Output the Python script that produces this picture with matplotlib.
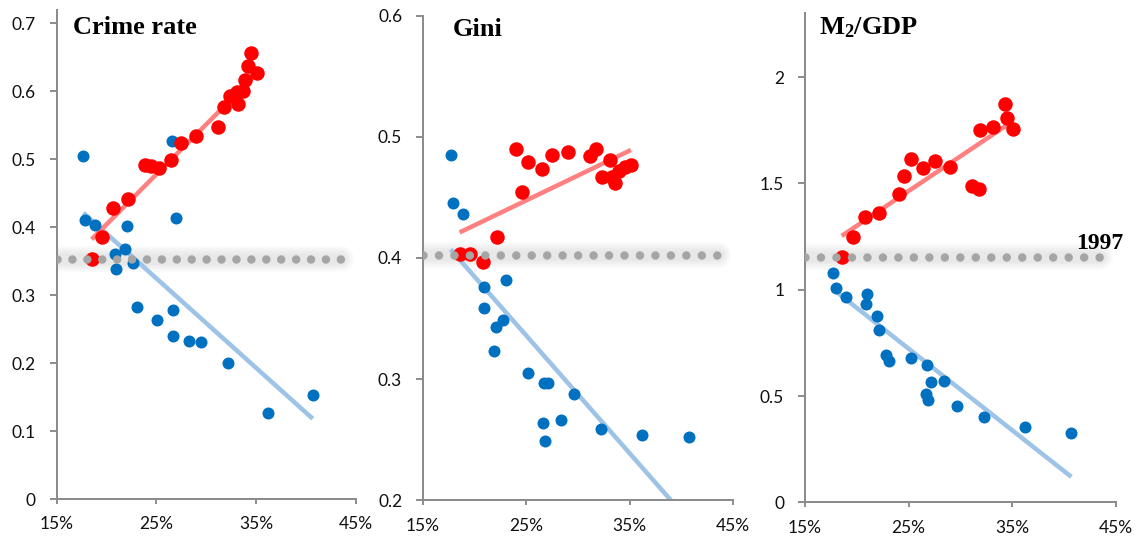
import matplotlib
matplotlib.use("Agg")
import matplotlib.pyplot as plt
from matplotlib.ticker import FuncFormatter, FixedLocator

# ---------------- data ----------------
titles = ["Crime rate", "Gini", "M$_2$/GDP"]

crime_blue_x = [17.67, 17.83, 18.83, 22.07, 20.83, 21.83, 20.90, 22.67, 23.00, 25.07,
                26.63, 26.70, 26.53, 27.00, 28.27, 29.50, 32.17, 36.17, 40.67]
crime_blue_y = [0.505, 0.410, 0.403, 0.401, 0.361, 0.368, 0.339, 0.347, 0.282, 0.264,
                0.278, 0.240, 0.526, 0.413, 0.232, 0.231, 0.200, 0.127, 0.153]
crime_red_x = [18.50, 19.50, 20.67, 22.10, 23.90, 24.50, 25.27, 26.43, 27.50, 29.00,
               31.17, 31.73, 32.33, 33.17, 33.07, 33.67, 33.83, 34.17, 34.43, 35.07]
crime_red_y = [0.353, 0.385, 0.428, 0.442, 0.492, 0.490, 0.487, 0.498, 0.523, 0.534,
               0.547, 0.577, 0.593, 0.581, 0.599, 0.600, 0.617, 0.637, 0.656, 0.627]

gini_blue_x = [17.67, 17.89, 18.86, 20.88, 20.92, 23.01, 22.07, 22.72, 21.88, 25.13,
               26.67, 27.12, 29.57, 26.64, 28.31, 26.77, 32.23, 36.22, 40.72]
gini_blue_y = [0.485, 0.445, 0.436, 0.376, 0.359, 0.382, 0.343, 0.349, 0.323, 0.305,
               0.297, 0.297, 0.288, 0.264, 0.266, 0.249, 0.259, 0.254, 0.252]
gini_red_x = [18.54, 19.57, 20.79, 22.14, 24.00, 24.55, 25.16, 26.48, 27.51, 28.99,
              31.14, 31.72, 32.27, 33.10, 33.23, 33.59, 33.97, 34.55, 35.10]
gini_red_y = [0.403, 0.403, 0.397, 0.417, 0.490, 0.454, 0.479, 0.473, 0.485, 0.487,
              0.484, 0.490, 0.467, 0.481, 0.467, 0.462, 0.472, 0.475, 0.477]

m2_blue_x = [17.73, 17.99, 18.95, 20.95, 20.88, 21.91, 22.14, 22.78, 23.10, 25.19,
             26.74, 27.12, 26.67, 26.83, 28.41, 29.63, 32.30, 36.29, 40.72]
m2_blue_y = [1.077, 1.007, 0.967, 0.980, 0.931, 0.877, 0.809, 0.695, 0.663, 0.679,
             0.647, 0.565, 0.509, 0.481, 0.569, 0.452, 0.403, 0.354, 0.325]
m2_red_x = [18.54, 19.60, 20.79, 22.17, 24.10, 24.58, 25.22, 26.41, 27.54, 28.99,
            31.08, 31.82, 31.88, 33.17, 34.29, 34.52, 35.10]
m2_red_y = [1.155, 1.248, 1.340, 1.362, 1.448, 1.535, 1.617, 1.573, 1.605, 1.578,
            1.487, 1.475, 1.751, 1.764, 1.873, 1.808, 1.755]

# linear trend lines (end points)
crime_blue_trend = ([17.67, 40.67], [0.421, 0.118])
crime_red_trend = ([18.50, 35.07], [0.382, 0.626])
gini_blue_trend = ([17.67, 40.72], [0.407, 0.183])
gini_red_trend = ([18.54, 35.10], [0.421, 0.489])
m2_blue_trend = ([17.73, 40.72], [1.002, 0.120])
m2_red_trend = ([18.54, 35.10], [1.253, 1.794])

# 1997 reference level per panel
ref_1997 = [0.353, 0.4026, 1.155]
ref_x_range = [15.0, 43.5]
ref_label = "1997"

x_ticks = [15, 25, 35, 45]
crime_ticks = [0, 0.1, 0.2, 0.3, 0.4, 0.5, 0.6, 0.7]
gini_ticks = [0.2, 0.3, 0.4, 0.5, 0.6]
m2_ticks = [0, 0.5, 1, 1.5, 2]
y_limits = [(0, 0.7194), (0.2, 0.6), (0, 2.30)]

# ---------------- styling ----------------
plt.rcParams['mathtext.fontset'] = 'custom'
plt.rcParams['mathtext.rm'] = 'Liberation Serif:bold'
plt.rcParams['mathtext.it'] = 'Liberation Serif:bold'
plt.rcParams['mathtext.bf'] = 'Liberation Serif:bold'

W, H = 1141, 542
fig = plt.figure(figsize=(W / 100, H / 100), dpi=100)

# axes rectangles in pixels: left, right, top, bottom
rects_px = [(56.7, 356.0, 10.0, 499.0),
            (423.0, 733.3, 15.5, 500.3),
            (805.0, 1115.7, 13.3, 502.4)]

BLUE = '#0070C0'
RED = '#FF0000'
BLUE_T = '#9DC3E6'
RED_T = '#FF8080'
AXIS = '#8C8C8C'
DOT = '#A5A5A5'

panels = [
    (crime_blue_x, crime_blue_y, crime_red_x, crime_red_y, crime_blue_trend, crime_red_trend, crime_ticks),
    (gini_blue_x, gini_blue_y, gini_red_x, gini_red_y, gini_blue_trend, gini_red_trend, gini_ticks),
    (m2_blue_x, m2_blue_y, m2_red_x, m2_red_y, m2_blue_trend, m2_red_trend, m2_ticks),
]

px2pt = 0.72
title_pos = [(73.3, 33.5), (453.0, 36.0), (819.0, 34.0)]

for i, (bx, by, rx, ry, bt, rt, yt) in enumerate(panels):
    l, r, t, b = rects_px[i]
    ax = fig.add_axes([l / W, (H - b) / H, (r - l) / W, (b - t) / H])
    ax.set_xlim(15, 45)
    ax.set_ylim(*y_limits[i])

    # soft glow band of the 1997 reference
    for w in [26, 22, 18, 14, 11]:
        ax.plot(ref_x_range, [ref_1997[i]] * 2, color='#808080', alpha=0.035,
                lw=w * px2pt, solid_capstyle='round', zorder=1.5)

    # trend lines (beneath the points)
    ax.plot(bt[0], bt[1], color=BLUE_T, lw=4.5 * px2pt, solid_capstyle='butt', zorder=2)
    ax.plot(rt[0], rt[1], color=RED_T, lw=4.5 * px2pt, solid_capstyle='butt', zorder=2)

    # scatter points
    ax.plot(bx, by, 'o', color=BLUE, ms=12 * px2pt, mew=0, zorder=3)
    ax.plot(rx, ry, 'o', color=RED, ms=14.5 * px2pt, mew=0, zorder=3.1)

    # dotted 1997 level
    dot_px = 8.5
    spacing_px = (r - l) * 1.5 / 30.0 * 0.996
    ax.plot(ref_x_range, [ref_1997[i]] * 2, color=DOT, lw=dot_px * px2pt,
            linestyle=(0, (0.001, spacing_px / dot_px)), dash_capstyle='round', zorder=5)

    # axes styling
    for s in ['top', 'right']:
        ax.spines[s].set_visible(False)
    for s in ['left', 'bottom']:
        ax.spines[s].set_color(AXIS)
        ax.spines[s].set_linewidth(2 * px2pt)
    ax.xaxis.set_major_locator(FixedLocator(x_ticks))
    ax.yaxis.set_major_locator(FixedLocator(yt))
    ax.xaxis.set_major_formatter(FuncFormatter(lambda v, p: f"{v:.0f}%"))
    ax.yaxis.set_major_formatter(FuncFormatter(lambda v, p: f"{v:g}"))
    ax.tick_params(axis='y', direction='out', length=5, width=1.4, color=AXIS, pad=10,
                   labelsize=12.5, labelcolor='#111111')
    ax.tick_params(axis='x', direction='out', length=3.5, width=1.4, color=AXIS, pad=9,
                   labelsize=12.5, labelcolor='#111111')
    for lab in ax.get_xticklabels() + ax.get_yticklabels():
        lab.set_fontfamily('Lato')
    ax.set_facecolor('none')

    # title
    tx, ty = title_pos[i]
    fig.text(tx / W, (H - ty) / H, titles[i], fontfamily='Liberation Serif',
             fontweight='bold', fontsize=19, ha='left', va='baseline', color='black')

    if i == 2:
        fig.text(1076 / W, (H - 249) / H, ref_label, fontfamily='Liberation Serif',
                 fontweight='bold', fontsize=17, ha='left', va='baseline', color='black')

fig.savefig('out.png', dpi=100, facecolor='white')
